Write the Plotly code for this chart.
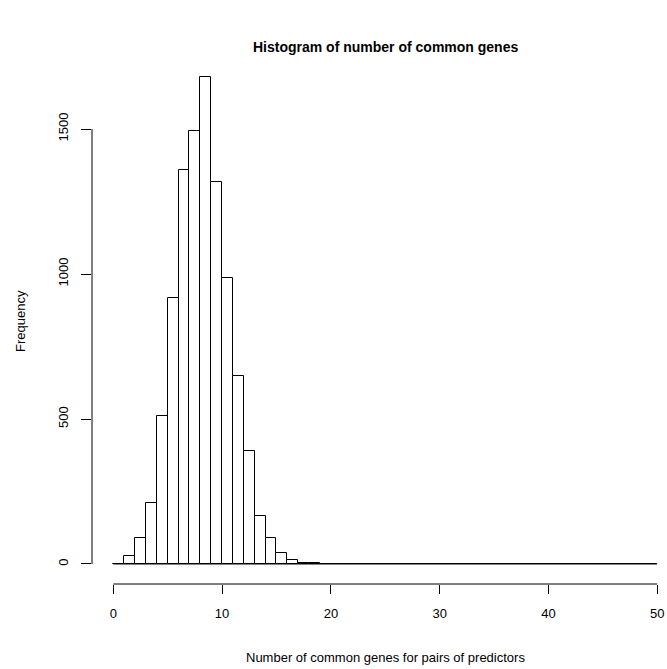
import plotly.graph_objects as go

# Histogram data: bins [k, k+1) for k = 0..49
bin_edges = list(range(0, 51))
counts = [0, 28, 88, 210, 511, 916, 1359, 1494, 1678, 1318,
          985, 648, 390, 167, 88, 39, 14, 5, 3, 1] + [0] * 30
x_ticks = [0, 10, 20, 30, 40, 50]
y_ticks = [0, 500, 1000, 1500]

title_text = "Histogram of number of common genes"
x_title = "Number of common genes for pairs of predictors"
y_title = "Frequency"

centers = [(bin_edges[i] + bin_edges[i + 1]) / 2 for i in range(len(counts))]
widths = [bin_edges[i + 1] - bin_edges[i] for i in range(len(counts))]

FONT = "Liberation Sans, Arial, Helvetica, sans-serif"

fig = go.Figure()
# baseline for empty bins (R draws zero-height rectangles as lines)
fig.add_trace(go.Scatter(x=[bin_edges[0], bin_edges[-1]], y=[0, 0], mode="lines",
                         line=dict(color="black", width=1), hoverinfo="skip",
                         showlegend=False))
fig.add_trace(go.Bar(x=centers, y=counts, width=widths,
                     marker=dict(color="white", line=dict(color="black", width=1)),
                     showlegend=False))

W, H = 667, 669
left, right, top, bottom = 92, 667, 58, 584
fig.update_layout(
    width=W, height=H,
    margin=dict(l=left, r=W - right, t=top, b=H - bottom, pad=0),
    paper_bgcolor="white", plot_bgcolor="white",
    font=dict(family=FONT, size=13, color="black"),
    bargap=0,
    xaxis=dict(range=[-1.96, 50.9], tickvals=x_ticks, ticks="outside", ticklen=9,
               tickwidth=1, tickcolor="black", showgrid=False, zeroline=False,
               showline=False, ticklabelstandoff=8,
               tickfont=dict(size=13, family=FONT)),
    yaxis=dict(range=[-69, 1745], tickvals=y_ticks, ticks="outside", ticklen=10,
               tickwidth=1, tickcolor="black", showgrid=False, zeroline=False,
               showline=False, tickangle=-90, ticklabelstandoff=8,
               tickfont=dict(size=13, family=FONT)),
    shapes=[
        dict(type="line", xref="x", yref="paper", x0=x_ticks[0], x1=x_ticks[-1], y0=0, y1=0,
             line=dict(color="black", width=1)),
        dict(type="line", xref="paper", yref="y", x0=0, x1=0, y0=y_ticks[0], y1=y_ticks[-1],
             line=dict(color="black", width=1)),
    ],
    annotations=[
        dict(text="<b>" + title_text + "</b>", xref="paper", yref="paper",
             x=(385 - left) / (right - left), y=1, yshift=(top - 47) , xanchor="center",
             yanchor="middle", showarrow=False, font=dict(size=14, family=FONT)),
        dict(text=x_title, xref="paper", yref="paper", x=(385 - left) / (right - left),
             y=0, yshift=-(657 - bottom), xanchor="center", yanchor="middle",
             showarrow=False, font=dict(size=13, family=FONT)),
        dict(text=y_title, xref="paper", yref="paper", x=0, xshift=-(left - 20),
             y=0.5, xanchor="center", yanchor="middle", textangle=-90,
             showarrow=False, font=dict(size=13, family=FONT)),
    ],
)

fig.write_html("out.html")
